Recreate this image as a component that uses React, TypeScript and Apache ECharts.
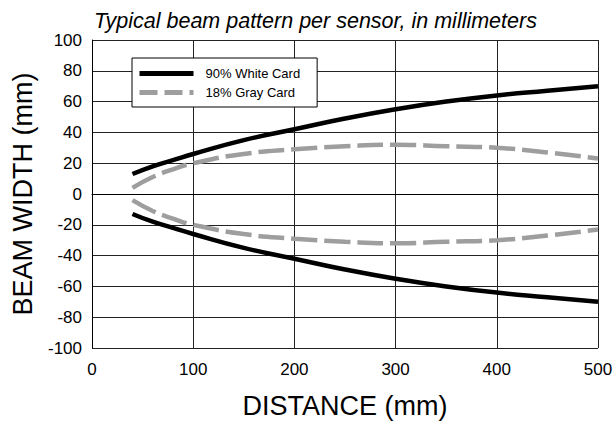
import React, { useEffect, useRef } from "react";
import * as echarts from "echarts";

const distances = [40, 60, 80, 100, 150, 200, 250, 300, 350, 400, 450, 500];
const whiteUpper = [13, 18, 22, 26, 35, 42, 49, 55, 60, 64, 67, 70];
const grayUpper = [4, 11, 16, 20, 26, 29, 31, 32, 31, 30, 27, 23];
const whiteLower = whiteUpper.map((v) => -v);
const grayLower = grayUpper.map((v) => -v);
const seriesNames = ["90% White Card", "18% Gray Card"];

export default function App() {
  const ref = useRef<HTMLDivElement>(null);
  useEffect(() => {
    const chart = echarts.init(ref.current!, null, { renderer: "svg" });
    const pair = (ys: number[]) => distances.map((x, i) => [x, ys[i]]);
    const whiteStyle = { color: "#000", width: 4.5, type: "solid" as const };
    const grayStyle = { color: "#9e9e9e", width: 4.5, type: [26, 7] as any };
    const common = { type: "line", smooth: true, symbol: "none", showSymbol: false };
    chart.setOption({
      animation: false,
      textStyle: { fontFamily: "Liberation Sans, Arial, sans-serif" },
      title: {
        text: "Typical beam pattern per sensor, in millimeters",
        left: 89,
        top: 5,
        textStyle: { fontSize: 21.5, fontStyle: "italic", fontWeight: "normal", color: "#000" },
      },
      grid: { left: 92, right: 18, top: 40, bottom: 74 },
      legend: {
        left: 132,
        top: 58,
        orient: "vertical",
        itemWidth: 54,
        itemHeight: 14,
        itemGap: 6,
        padding: [9, 17, 8, 5],
        borderColor: "#000",
        borderWidth: 1,
        borderRadius: 0,
        backgroundColor: "#fff",
        itemStyle: { opacity: 0 },
        lineStyle: { width: 5 },
        textStyle: { fontSize: 13, color: "#000", padding: [0, 0, 0, 7] },
        data: [
          { name: seriesNames[0], lineStyle: { width: 5, color: "#000" } },
          { name: seriesNames[1], lineStyle: { width: 5, type: [18, 7], color: "#9e9e9e" } },
        ],
      },
      xAxis: {
        type: "value",
        min: 0,
        max: 500,
        interval: 100,
        name: "DISTANCE (mm)",
        nameLocation: "middle",
        nameGap: 44,
        nameTextStyle: { fontSize: 27, color: "#000" },
        axisLine: { show: true, lineStyle: { color: "#000" } },
        axisTick: { show: false },
        axisLabel: { fontSize: 17, color: "#000", margin: 13 },
        splitLine: { show: true, lineStyle: { color: "#222", width: 1 } },
      },
      yAxis: {
        type: "value",
        min: -100,
        max: 100,
        interval: 20,
        name: "BEAM WIDTH (mm)",
        nameLocation: "middle",
        nameGap: 56,
        nameTextStyle: { fontSize: 27, color: "#000" },
        axisLine: { show: true, lineStyle: { color: "#000" } },
        axisTick: { show: false },
        axisLabel: { fontSize: 17, color: "#000", margin: 10 },
        splitLine: { show: true, lineStyle: { color: "#222", width: 1 } },
      },
      series: [
        { ...common, name: seriesNames[0], data: pair(whiteUpper), lineStyle: whiteStyle, itemStyle: { color: "#000" }, z: 3 },
        { ...common, name: seriesNames[0], data: pair(whiteLower), lineStyle: whiteStyle, itemStyle: { color: "#000" }, z: 3 },
        { ...common, name: seriesNames[1], data: pair(grayUpper), lineStyle: grayStyle, itemStyle: { color: "#9e9e9e" }, z: 2 },
        { ...common, name: seriesNames[1], data: pair(grayLower), lineStyle: grayStyle, itemStyle: { color: "#9e9e9e" }, z: 2 },
      ],
    });
    return () => chart.dispose();
  }, []);
  return <div ref={ref} style={{ width: 616, height: 424, position: "absolute", left: 0, top: 0 }} />;
}
